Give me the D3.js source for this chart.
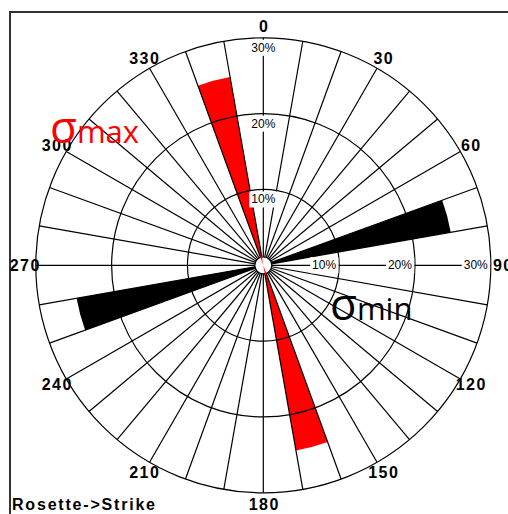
<!DOCTYPE html>
<html>
<head>
<meta charset="utf-8">
<script src="https://cdn.jsdelivr.net/npm/d3@7"></script>
<style>
  body { margin: 0; background: #fff; }
  svg { display: block; }
</style>
</head>
<body>
<svg id="chart"></svg>
<script>
// rose diagram (strike), 10 degree bins
let angleLabels = [0, 30, 60, 90, 120, 150, 180, 210, 240, 270, 300, 330];
let pctTicks = [10, 20, 30];

// sigma max petals (red) - bin start, percent
let sigmaMaxBins = [340, 160];
let sigmaMaxPct = [25.2, 24.8];

// sigma min petals (black)
let sigmaMinBins = [70, 250];
let sigmaMinPct = [25.1, 25.0];

let binWidth = 10;

let width = 508;
let height = 514;
let cx = 263.3;
let cy = 265.3;
let R = 227.5;
let hole = 8.5;

let svg = d3.select('#chart')
    .attr('width', width)
    .attr('height', height);

let rScale = d3.scaleLinear().domain([0, 30]).range([0, R]);
let rad = (deg) => deg * Math.PI / 180;

// frame
svg.append('path')
   .attr('d', 'M10,' + height + ' V12 H' + width)
   .attr('fill', 'none')
   .attr('stroke', '#333')
   .attr('stroke-width', 2);

let g = svg.append('g').attr('transform', `translate(${cx},${cy})`);

let petalArc = d3.arc()
    .innerRadius(0)
    .outerRadius(d => rScale(d.pct))
    .startAngle(d => rad(d.bin))
    .endAngle(d => rad(d.bin + binWidth));

let minData = sigmaMinBins.map((b, i) => ({ bin: b, pct: sigmaMinPct[i] }));
let maxData = sigmaMaxBins.map((b, i) => ({ bin: b, pct: sigmaMaxPct[i] }));

g.selectAll('.pmin').data(minData).enter().append('path')
 .attr('class', 'pmin')
 .attr('d', petalArc)
 .attr('fill', '#000');

g.selectAll('.pmax').data(maxData).enter().append('path')
 .attr('class', 'pmax')
 .attr('d', petalArc)
 .attr('fill', '#ff0000');

// grid rings
g.selectAll('.ring').data(pctTicks).enter().append('circle')
 .attr('class', 'ring')
 .attr('r', d => rScale(d))
 .attr('fill', 'none')
 .attr('stroke', '#000')
 .attr('stroke-width', 1.2);

// radial lines every 10 degrees
let spokes = d3.range(0, 360, binWidth);
g.selectAll('.spoke').data(spokes).enter().append('line')
 .attr('class', 'spoke')
 .attr('x1', d => Math.sin(rad(d)) * hole)
 .attr('y1', d => -Math.cos(rad(d)) * hole)
 .attr('x2', d => Math.sin(rad(d)) * R)
 .attr('y2', d => -Math.cos(rad(d)) * R)
 .attr('stroke', '#000')
 .attr('stroke-width', 1.2);

// centre hole
g.append('circle')
 .attr('r', hole)
 .attr('fill', '#fff')
 .attr('stroke', '#000')
 .attr('stroke-width', 1.2);

// red petals run through the hole
let innerArc = d3.arc()
    .innerRadius(0)
    .outerRadius(d => Math.min(rScale(d.pct), hole + 1))
    .startAngle(d => rad(d.bin))
    .endAngle(d => rad(d.bin + binWidth));
g.selectAll('.pmaxin').data(maxData).enter().append('path')
 .attr('d', innerArc)
 .attr('fill', '#ff0000');

// percent labels, with white boxes
let addLabel = (x, y, txt, anchor) => {
    let t = g.append('text')
        .attr('x', x).attr('y', y)
        .attr('text-anchor', anchor)
        .attr('dominant-baseline', 'central')
        .attr('font-family', 'Liberation Sans, Arial, sans-serif')
        .attr('font-size', 12)
        .text(txt);
    let bb = t.node().getBBox();
    g.insert('rect', () => t.node())
     .attr('x', bb.x - 2).attr('y', bb.y - 1)
     .attr('width', bb.width + 4).attr('height', bb.height + 2)
     .attr('fill', '#fff');
};
pctTicks.forEach(p => {
    addLabel(0, -rScale(p) + 10, p + '%', 'middle');
    addLabel(rScale(p) - 3, 0, p + '%', 'end');
});

// angle labels
g.selectAll('.alab').data(angleLabels).enter().append('text')
 .attr('class', 'alab')
 .attr('x', d => Math.sin(rad(d)) * 239 + 1)
 .attr('y', d => -Math.cos(rad(d)) * 239)
 .attr('text-anchor', 'middle')
 .attr('dominant-baseline', 'central')
 .attr('font-family', 'Liberation Sans, Arial, sans-serif')
 .attr('font-weight', 'bold')
 .attr('font-size', 16)
 .attr('letter-spacing', 1.5)
 .text(d => d);

// sigma annotations
let sigmaLabel = (x, y, sub, color) => {
    let t = svg.append('text')
        .attr('x', x).attr('y', y)
        .attr('font-family', 'Open Sans, sans-serif')
        .attr('fill', color);
    t.append('tspan').attr('font-size', 44).text('σ');
    t.append('tspan').attr('font-size', 31).text(sub);
};
sigmaLabel(50, 143, 'max', '#ff0000');
sigmaLabel(330, 320, 'min', '#000');

svg.append('text')
   .attr('x', 12).attr('y', 510)
   .attr('font-family', 'Liberation Sans, Arial, sans-serif')
   .attr('font-weight', 'bold')
   .attr('font-size', 16)
   .attr('letter-spacing', 1.8)
   .text('Rosette->Strike');
</script>
</body>
</html>
